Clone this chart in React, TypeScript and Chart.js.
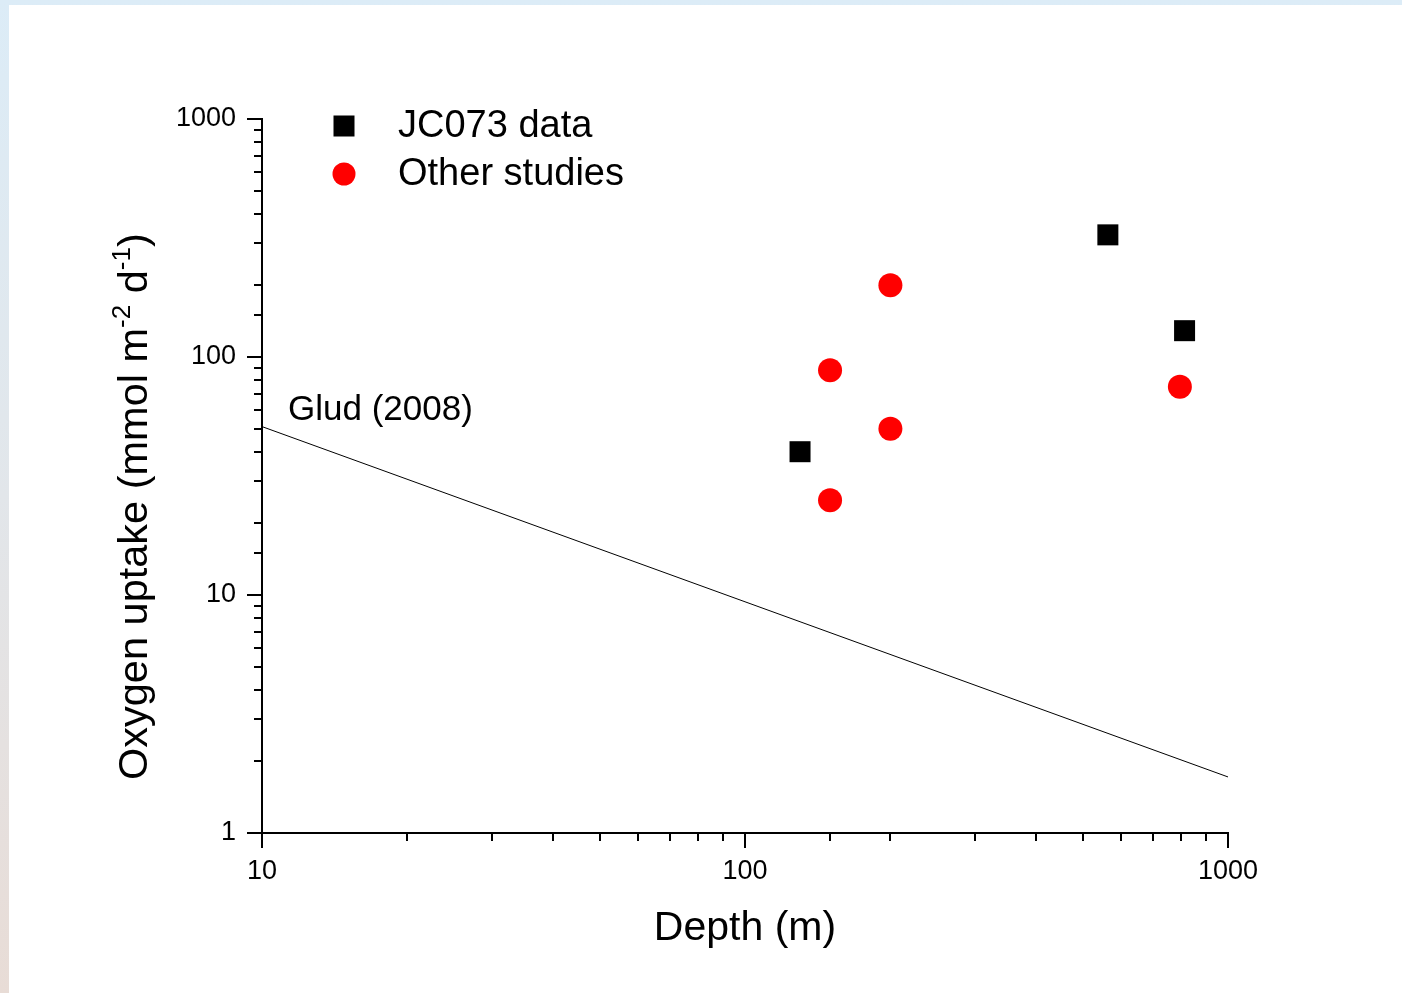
import React, { useEffect, useRef } from "react";
import { Chart, registerables } from "chart.js";

Chart.register(...registerables);

// ---- Data ----
const jc073Depth = [130, 564, 813];
const jc073Uptake = [40, 326, 129];
const otherDepth = [150, 150, 200, 200, 795];
const otherUptake = [88, 25, 200, 50, 75];
const gludDepth = [10, 1000];
const gludUptake = [51, 1.72];

const xMin = 10;
const xMax = 1000;
const yMin = 1;
const yMax = 1000;

const seriesLabels = ["JC073 data", "Other studies"];
const gludLabel = "Glud (2008)";
const xTitle = "Depth (m)";

const FONT = "'Liberation Sans', Arial, Helvetica, sans-serif";

const isDecade = (v: number) => Math.abs(Math.log10(v) - Math.round(Math.log10(v))) < 1e-9;

const decorPlugin = {
  id: "decor",
  afterDraw(chart: any) {
    const ctx = chart.ctx as CanvasRenderingContext2D;
    const xs = chart.scales.x;
    const ys = chart.scales.y;
    const area = chart.chartArea;
    ctx.save();
    ctx.strokeStyle = "#000";
    ctx.lineWidth = 2;
    ctx.lineCap = "butt";
    // ticks
    for (const t of ys.ticks) {
      const py = Math.round(ys.getPixelForValue(t.value));
      const len = isDecade(t.value) ? 15 : 8;
      ctx.beginPath();
      ctx.moveTo(area.left, py);
      ctx.lineTo(area.left - len, py);
      ctx.stroke();
    }
    for (const t of xs.ticks) {
      const px = Math.round(xs.getPixelForValue(t.value));
      const len = isDecade(t.value) ? 15 : 8;
      ctx.beginPath();
      ctx.moveTo(px, area.bottom);
      ctx.lineTo(px, area.bottom + len);
      ctx.stroke();
    }

    ctx.fillStyle = "#000";
    // x title
    ctx.font = `41px ${FONT}`;
    ctx.textAlign = "center";
    ctx.textBaseline = "middle";
    ctx.fillText(xTitle, (area.left + area.right) / 2, 929);

    // y title with superscripts
    ctx.save();
    ctx.translate(147, 780);
    ctx.rotate(-Math.PI / 2);
    ctx.textAlign = "left";
    ctx.textBaseline = "alphabetic";
    const parts: [string, boolean][] = [
      ["Oxygen uptake (mmol m", false],
      ["-2", true],
      [" d", false],
      ["-1", true],
      [")", false],
    ];
    let cx = 0;
    for (const [txt, sup] of parts) {
      ctx.font = sup ? `26px ${FONT}` : `41.5px ${FONT}`;
      ctx.fillText(txt, cx, sup ? -17 : 0);
      cx += ctx.measureText(txt).width;
    }
    ctx.restore();

    // legend
    ctx.fillStyle = "#000";
    ctx.fillRect(344 - 10.5, 126 - 10.5, 21, 21);
    ctx.fillStyle = "#ff0000";
    ctx.beginPath();
    ctx.arc(344, 174, 11.5, 0, Math.PI * 2);
    ctx.fill();
    ctx.fillStyle = "#000";
    ctx.font = `38px ${FONT}`;
    ctx.textAlign = "left";
    ctx.textBaseline = "middle";
    ctx.fillText(seriesLabels[0], 398, 127);
    ctx.fillText(seriesLabels[1], 398, 175);

    // Glud label
    ctx.font = `35px ${FONT}`;
    ctx.fillText(gludLabel, 288, 410);
    ctx.restore();
  },
};

export default function App() {
  const canvasRef = useRef<HTMLCanvasElement | null>(null);

  useEffect(() => {
    if (!canvasRef.current) return;
    const chart = new Chart(canvasRef.current, {
      type: "scatter",
      data: {
        datasets: [
          {
            type: "line",
            label: gludLabel,
            data: gludDepth.map((x, i) => ({ x, y: gludUptake[i] })),
            borderColor: "#000",
            borderWidth: 1,
            pointRadius: 0,
            fill: false,
          } as any,
          {
            label: seriesLabels[0],
            data: jc073Depth.map((x, i) => ({ x, y: jc073Uptake[i] })),
            pointStyle: "rect",
            pointRadius: 14.85,
            backgroundColor: "#000",
            borderWidth: 0,
          },
          {
            label: seriesLabels[1],
            data: otherDepth.map((x, i) => ({ x, y: otherUptake[i] })),
            pointStyle: "circle",
            pointRadius: 12,
            backgroundColor: "#ff0000",
            borderWidth: 0,
          },
        ],
      },
      options: {
        responsive: false,
        animation: false,
        devicePixelRatio: 1,
        layout: { padding: { left: 0, top: 119, right: 174, bottom: 0 } },
        plugins: {
          legend: { display: false },
          tooltip: { enabled: false },
        },
        scales: {
          x: {
            type: "logarithmic",
            min: xMin,
            max: xMax,
            afterFit: (s: any) => {
              s.height = 160;
            },
            grid: { display: true, drawOnChartArea: false, drawTicks: false },
            border: { display: true, color: "#000", width: 2 },
            ticks: {
              color: "#000",
              font: { family: FONT, size: 27 },
              padding: 22,
              maxRotation: 0,
              autoSkip: false,
              callback: (v: any) => (isDecade(Number(v)) ? String(Number(v)) : ""),
            },
          },
          y: {
            type: "logarithmic",
            min: yMin,
            max: yMax,
            afterFit: (s: any) => {
              s.width = 262;
            },
            grid: { display: true, drawOnChartArea: false, drawTicks: false },
            border: { display: true, color: "#000", width: 2 },
            ticks: {
              color: "#000",
              font: { family: FONT, size: 27 },
              padding: 26,
              autoSkip: false,
              callback: (v: any) => (isDecade(Number(v)) ? String(Number(v)) : ""),
            },
          },
        },
      },
      plugins: [decorPlugin],
    });
    return () => chart.destroy();
  }, []);

  return (
    <div
      style={{
        position: "fixed",
        left: 0,
        top: 0,
        width: 1402,
        height: 993,
        background: "linear-gradient(180deg, #dcecf7 0%, #e2e6ea 50%, #e8dcd6 100%)",
        overflow: "hidden",
      }}
    >
      <div
        style={{ position: "absolute", left: 9, top: 5, right: 0, bottom: 0, background: "#fff" }}
      />
      <canvas
        ref={canvasRef}
        width={1402}
        height={993}
        style={{ position: "absolute", left: 0, top: 0, width: 1402, height: 993 }}
      />
    </div>
  );
}
